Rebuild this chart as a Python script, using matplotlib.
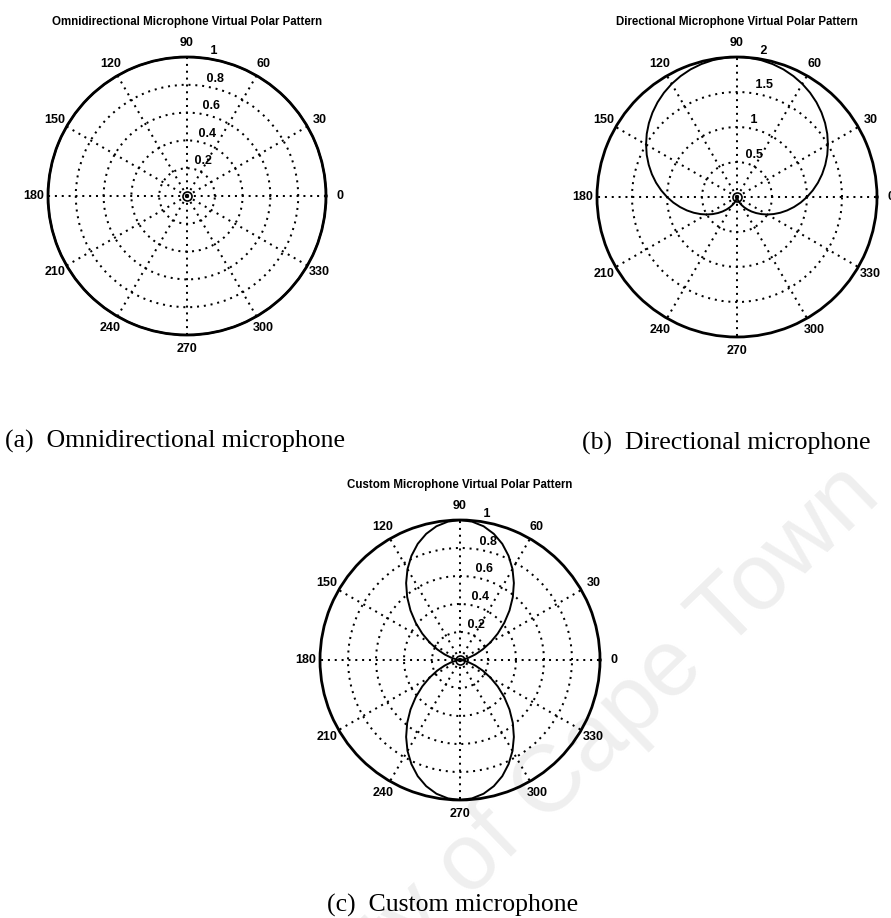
import numpy as np
import matplotlib
matplotlib.use("Agg")
import matplotlib.pyplot as plt

# ---------------- data ----------------
angles_deg = list(range(0, 361, 5))

omni_gain = [1.0] * 73

directional_gain = [
    1.000, 1.087, 1.174, 1.259, 1.342, 1.423, 1.500, 1.574, 1.643, 1.707,
    1.766, 1.819, 1.866, 1.906, 1.940, 1.966, 1.985, 1.996, 2.000,
    1.996, 1.985, 1.966, 1.940, 1.906, 1.866, 1.819, 1.766, 1.707, 1.643,
    1.574, 1.500, 1.423, 1.342, 1.259, 1.174, 1.087, 1.000,
    0.913, 0.826, 0.741, 0.658, 0.577, 0.500, 0.426, 0.357, 0.293, 0.234,
    0.181, 0.134, 0.094, 0.060, 0.034, 0.015, 0.004, 0.000,
    0.004, 0.015, 0.034, 0.060, 0.094, 0.134, 0.181, 0.234, 0.293, 0.357,
    0.426, 0.500, 0.577, 0.658, 0.741, 0.826, 0.913, 1.000]

custom_gain = [
    0.000, 0.008, 0.030, 0.067, 0.117, 0.179, 0.250, 0.329, 0.413, 0.500,
    0.587, 0.671, 0.750, 0.821, 0.883, 0.933, 0.970, 0.992, 1.000,
    0.992, 0.970, 0.933, 0.883, 0.821, 0.750, 0.671, 0.587, 0.500, 0.413,
    0.329, 0.250, 0.179, 0.117, 0.067, 0.030, 0.008, 0.000,
    0.008, 0.030, 0.067, 0.117, 0.179, 0.250, 0.329, 0.413, 0.500, 0.587,
    0.671, 0.750, 0.821, 0.883, 0.933, 0.970, 0.992, 1.000,
    0.992, 0.970, 0.933, 0.883, 0.821, 0.750, 0.671, 0.587, 0.500, 0.413,
    0.329, 0.250, 0.179, 0.117, 0.067, 0.030, 0.008, 0.000]

mic_position = [0.0]

theta_labels = ["0", "30", "60", "90", "120", "150", "180", "210", "240", "270", "300", "330"]
theta_label_angles = [0, 30, 60, 90, 120, 150, 180, 210, 240, 270, 300, 330]

omni_rticks = [0.2, 0.4, 0.6, 0.8, 1.0]
omni_rlabels = ["0.2", "0.4", "0.6", "0.8", "1"]
dir_rticks = [0.5, 1.0, 1.5, 2.0]
dir_rlabels = ["0.5", "1", "1.5", "2"]
custom_rticks = [0.2, 0.4, 0.6, 0.8, 1.0]
custom_rlabels = ["0.2", "0.4", "0.6", "0.8", "1"]

titles = ["Omnidirectional Microphone Virtual Polar Pattern",
          "Directional Microphone Virtual Polar Pattern",
          "Custom Microphone Virtual Polar Pattern"]
captions = ["(a)  Omnidirectional microphone",
            "(b)  Directional microphone",
            "(c)  Custom microphone"]

# ---------------- layout ----------------
W, H = 891, 918
fig = plt.figure(figsize=(W / 100, H / 100), dpi=100)
fig.patch.set_facecolor("white")

SANS = "Liberation Sans"
SERIF = "Liberation Serif"


def fx(x):
    return x / W


def fy(y):
    return 1 - y / H


# watermark
fig.text(fx(500), fy(835), "University of Cape Town", rotation=44, rotation_mode="anchor",
         ha="center", va="center", fontsize=68, family=SANS, color="#efefef", zorder=-5)

dot_style = (0, (1, 2.4))


def make_panel(cx, cy, rad, gains, rticks, rlabels, title, title_y):
    ax = fig.add_axes([fx(cx - rad), fy(cy + rad), 2 * rad / W, 2 * rad / H], projection="polar")
    ax.set_facecolor("none")
    rmax = rticks[-1]
    rinc = rticks[0]
    ax.set_ylim(0, rmax)
    ax.set_thetagrids(theta_label_angles, labels=[""] * len(theta_label_angles))
    ax.set_rgrids(rticks[:-1], labels=[""] * (len(rticks) - 1))
    ax.grid(True, color="black", linestyle=dot_style, linewidth=1.45)
    ax.spines["polar"].set_linewidth(2.0)
    ax.spines["polar"].set_color("black")
    ax.tick_params(length=0)
    th = np.deg2rad(angles_deg)
    ax.plot(th, gains, color="black", linewidth=1.4, zorder=4, clip_on=False)
    ax.plot(mic_position, mic_position, "o", mfc="none", mec="black", ms=6.5, mew=1.2, zorder=5)
    for a, lab in zip(theta_label_angles, theta_labels):
        ax.text(np.deg2rad(a), 1.1 * rmax, lab, ha="center", va="center", fontsize=9,
                fontweight="bold", family=SANS, clip_on=False)
    for r, lab in zip(rticks, rlabels):
        ax.text(np.deg2rad(82), r + rinc / 20, " " + lab, ha="left", va="bottom", fontsize=9,
                fontweight="bold", family=SANS, clip_on=False, zorder=6)
    fig.text(fx(cx), fy(title_y), title, ha="center", va="center", fontsize=8.3,
             fontweight="bold", family=SANS)
    return ax


make_panel(187, 196, 139, omni_gain, omni_rticks, omni_rlabels, titles[0], 22)
make_panel(737, 197, 140, directional_gain, dir_rticks, dir_rlabels, titles[1], 22)
make_panel(460, 660, 140, custom_gain, custom_rticks, custom_rlabels, titles[2], 485)

fig.text(fx(5), fy(441), captions[0], ha="left", va="center", fontsize=18.5, family=SERIF)
fig.text(fx(582), fy(443), captions[1], ha="left", va="center", fontsize=18.5, family=SERIF)
fig.text(fx(327), fy(905), captions[2], ha="left", va="center", fontsize=18.5, family=SERIF)

fig.savefig("out.png", dpi=100, facecolor="white")
